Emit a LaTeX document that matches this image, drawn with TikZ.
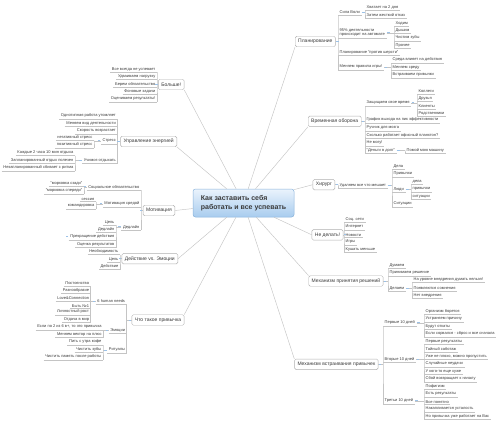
\documentclass[tikz,border=0pt]{standalone}
\usepackage{fontspec}
\setmainfont{Liberation Sans}
\definecolor{lc}{HTML}{C4C4C4}
\definecolor{bc}{HTML}{B0B0B0}
\definecolor{tc}{HTML}{3A3A3A}
\definecolor{mc}{HTML}{9CC2E8}
\definecolor{ctop}{HTML}{EAF3FC}
\definecolor{cbot}{HTML}{A8CCEE}
\definecolor{cbd}{HTML}{8AB3DB}
\newcommand\fbr{\fontsize{5}{6}\selectfont}
\newcommand\flf{\fontsize{4}{4.5}\selectfont}
\tikzset{
 lnk/.style={draw=lc, line width=0.45pt},
 mk/.style={draw=mc, line width=1pt},
 br/.style={draw=bc, fill=white, rounded corners=1.5pt, font=\fbr, text=tc, inner xsep=3pt, inner ysep=0pt, minimum height=10.5pt, line width=0.45pt},
 lf/.style={font=\flf, text=tc, inner xsep=1.5pt, inner ysep=1pt, append after command={(\tikzlastnode.south west) edge[lnk] (\tikzlastnode.south east)}},
 rl/.style={lf, anchor=south west, align=left},
 ll/.style={lf, anchor=south east, align=right},
}
\newcommand\gR[3]{\draw[lnk] (#1.east) -- (#1.east -| #2.south west) (#2.south west) -- (#1.east -| #2.south west) -- (#3.south west); \draw[mk] ([xshift=0.6pt]#1.east) -- ++(2.4pt,0);}
\newcommand\gL[3]{\draw[lnk] (#1.west) -- (#1.west -| #2.south east) (#2.south east) -- (#1.west -| #2.south east) -- (#3.south east); \draw[mk] ([xshift=-0.6pt]#1.west) -- ++(-2.4pt,0);}
\begin{document}
\begin{tikzpicture}[x=1pt,y=-1pt]
\useasboundingbox (0,0) rectangle (500,424);
% center
\node[draw=cbd, top color=ctop, bottom color=cbot, rounded corners=2.5pt, minimum width=101pt, minimum height=28pt, align=left, font=\bfseries\fontsize{7}{8.5}\selectfont, text=tc, line width=0.5pt] (C) at (243.5,203) {Как заставить себя\\работать и все успевать};

% ---------- right: Планирование
\node[br, anchor=west] (pl) at (295,41.5) {Планирование};
\node[rl] (pl1) at (338,15) {Сила Воли};
\node[rl] (pl2) at (338,38) {95\% деятельности\\происходит на автомате};
\node[rl] (pl3) at (338,55.5) {Планирование "против шерсти"};
\node[rl] (pl4) at (338,70) {Меняем правила игры!};
\gR{pl}{pl1}{pl4}
\node[rl] (pl1a) at (365,10) {Хватает на 2 дня};
\node[rl] (pl1b) at (365,18) {Затем жесткий отказ};
\gR{pl1}{pl1a}{pl1b}
\node[rl] (pl2a) at (394,26) {Ходим};
\node[rl] (pl2b) at (394,33.5) {Дышим};
\node[rl] (pl2c) at (394,41) {Чистим зубы};
\node[rl] (pl2d) at (394,48.5) {Прочее};
\gR{pl2}{pl2a}{pl2d}
\node[rl] (pl4a) at (391,63) {Среда влияет на действия};
\node[rl] (pl4b) at (391,70.5) {Меняем среду};
\node[rl] (pl4c) at (391,78) {Встраиваем привычки};
\gR{pl4}{pl4a}{pl4c}

% ---------- Временная оборона
\node[br, anchor=west] (vo) at (308,121.3) {Временная оборона};
\node[rl] (vo1) at (365,106) {Защищаем свое время};
\node[rl] (vo2) at (365,123) {График выхода на пик эффективности};
\node[rl] (vo3) at (365,131) {Ручник для мозга};
\node[rl] (vo4) at (365,138.5) {Сколько работает офисный планктон?};
\node[rl] (vo5) at (365,146) {Не могу!};
\node[rl] (vo6) at (365,153.5) {"Деньги в долг"};
\gR{vo}{vo1}{vo6}
\node[rl] (vo1a) at (417,94) {Коллеги};
\node[rl] (vo1b) at (417,101.5) {Друзья};
\node[rl] (vo1c) at (417,109) {Клиенты};
\node[rl] (vo1d) at (417,116.5) {Родственники};
\gR{vo1}{vo1a}{vo1d}
\node[rl] (vo6a) at (405,153.5) {Помой мою машину};
\gR{vo6}{vo6a}{vo6a}

% ---------- Хирург
\node[br, anchor=west] (hi) at (312.7,184.7) {Хирург};
\node[rl] (hi1) at (338,188) {Удаляем все что мешает};
\gR{hi}{hi1}{hi1}
\node[rl] (hi1a) at (392,169) {Дела};
\node[rl] (hi1b) at (392,177) {Привычки};
\node[rl] (hi1c) at (392,192) {Люди};
\node[rl] (hi1d) at (392,207) {Ситуации};
\gR{hi1}{hi1a}{hi1d}
\node[rl] (hi1ca) at (411,184.5) {дела};
\node[rl] (hi1cb) at (411,192) {привычки};
\node[rl] (hi1cc) at (411,199.5) {ситуации};
\gR{hi1c}{hi1ca}{hi1cc}

% ---------- Не делать!
\node[br, anchor=west] (nd) at (311.7,234.8) {Не делать!};
\node[rl] (nd1) at (344,222.5) {Соц. сети};
\node[rl] (nd2) at (344,230) {Интернет};
\node[rl] (nd3) at (344,237.7) {Новости};
\node[rl] (nd4) at (344,245) {Игры};
\node[rl] (nd5) at (344,252.5) {Кушать меньше};
\gR{nd}{nd1}{nd5}

% ---------- Механизм принятия решений
\node[br, anchor=west] (mr) at (308.5,281) {Механизм принятия решений};
\node[rl] (mr1) at (388,268.5) {Думаем};
\node[rl] (mr2) at (388,276) {Принимаем решение};
\node[rl] (mr3) at (388,291) {Делаем};
\gR{mr}{mr1}{mr3}
\node[rl] (mr3a) at (412,282.5) {На уровне внедрения думать нельзя!};
\node[rl] (mr3b) at (412,291) {Появляются сомнения};
\node[rl] (mr3c) at (412,298.5) {Нет внедрения};
\gR{mr3}{mr3a}{mr3c}

% ---------- Механизм встраивания привычек
\node[br, anchor=west] (mv) at (294.3,364.3) {Механизм встраивания привычек};
\node[rl] (mv1) at (383,326) {Первые 10 дней};
\node[rl] (mv2) at (383,362.5) {Вторые 10 дней};
\node[rl] (mv3) at (383,404) {Третьи 10 дней};
\gR{mv}{mv1}{mv3}
\node[rl] (mv1a) at (424,314.5) {Организм борется};
\node[rl] (mv1b) at (424,322) {Устраняем причину};
\node[rl] (mv1c) at (424,329.5) {Будут откаты};
\node[rl] (mv1d) at (424,337) {Если сорвался - сброс и все сначала};
\gR{mv1}{mv1a}{mv1d}
\node[rl] (mv2a) at (424,344.5) {Первые результаты};
\node[rl] (mv2b) at (424,352) {Тайный саботаж};
\node[rl] (mv2c) at (424,359.5) {Уже не плохо, можно пропустить};
\node[rl] (mv2d) at (424,367) {Случайные неудачи};
\node[rl] (mv2e) at (424,374.5) {У кого-то еще хуже};
\node[rl] (mv2f) at (424,382) {Сбой возвращает к началу};
\gR{mv2}{mv2a}{mv2f}
\node[rl] (mv3a) at (424,389.5) {Пофигизм};
\node[rl] (mv3b) at (424,397) {Есть результаты};
\node[rl] (mv3c) at (424,404.5) {Все понятно};
\node[rl] (mv3d) at (424,412) {Накапливается усталость};
\node[rl] (mv3e) at (424,419.5) {Но привычка уже работает на Вас};
\gR{mv3}{mv3a}{mv3e}

% ---------- left: Больше!
\node[br, anchor=east] (bo) at (184.3,84.5) {Больше!};
\node[ll] (bo1) at (157,72.3) {Все всегда не успевает};
\node[ll] (bo2) at (157,79.7) {Удваиваем нагрузку};
\node[ll] (bo3) at (157,87.3) {Берем обязательство};
\node[ll] (bo4) at (157,94.7) {Фоновые задачи};
\node[ll] (bo5) at (157,102) {Оцениваем результаты!};
\gL{bo}{bo1}{bo5}

% ---------- Управление энергией
\node[br, anchor=east] (ue) at (177,141.5) {Управление энергией};
\node[ll] (ue1) at (117.5,119) {Однотипная работа утомляет};
\node[ll] (ue2) at (117.5,126.5) {Меняем вид деятельности};
\node[ll] (ue3) at (117.5,134) {Скорость возрастает};
\node[ll] (ue4) at (117.5,144) {Стресс};
\node[ll] (ue5) at (117.5,163.5) {Учимся отдыхать};
\gL{ue}{ue1}{ue5}
\node[ll] (ue4a) at (94,140.5) {негативный стресс};
\node[ll] (ue4b) at (94,148) {позитивный стресс};
\gL{ue4}{ue4a}{ue4b}
\node[ll] (ue5a) at (75,155.7) {Каждые 2 часа 10 мин отдыха};
\node[ll] (ue5b) at (75,163.3) {Запланированный отдых полезен};
\node[ll] (ue5c) at (75,171) {Незапланированный сбивает с ритма};
\gL{ue5}{ue5a}{ue5c}

% ---------- Мотивация
\node[br, anchor=east] (mo) at (175,210.5) {Мотивация};
\node[ll] (mo1) at (141,190) {Социальное обязательство};
\node[ll] (mo2) at (141,207) {Мотивация средой};
\node[ll] (mo3) at (141,230) {Дедлайн};
\gL{mo}{mo1}{mo3}
\node[ll] (mo1a) at (84,186.7) {"морковка сзади"};
\node[ll] (mo1b) at (84,194) {"морковка спереди"};
\gL{mo1}{mo1a}{mo1b}
\node[ll] (mo2a) at (96,201.7) {сессия};
\node[ll] (mo2b) at (96,209) {командировка};
\gL{mo2}{mo2a}{mo2b}
\node[ll] (mo3a) at (116,225) {Цель};
\node[ll] (mo3b) at (116,232.3) {Дедлайн};
\node[ll] (mo3c) at (116,240) {Прекращение действия};
\node[ll] (mo3d) at (116,247.7) {Оценка результатов};
\gL{mo3}{mo3a}{mo3d}
\draw[mk] ([xshift=-0.6pt]mo3c.west) -- ++(-2.4pt,0);

% ---------- Действие vs. Эмоции
\node[br, anchor=east] (de) at (178,258.7) {Действие vs. Эмоции};
\node[ll] (de1) at (120,254.5) {Необходимость};
\node[ll] (de2) at (120,262) {Цель};
\node[ll] (de3) at (120,269.5) {Действие};
\gL{de}{de1}{de3}

% ---------- Что такое привычка
\node[br, anchor=east] (ch) at (184.3,320) {Что такое привычка};
\node[ll] (ch1) at (126.7,304) {6 human needs};
\node[ll] (ch2) at (126.7,333.5) {Эмоции};
\node[ll] (ch3) at (126.7,353) {Ритуалы};
\gL{ch}{ch1}{ch3}
\node[ll] (ch1a) at (90.7,286) {Постоянство};
\node[ll] (ch1b) at (90.7,293.5) {Разнообразие};
\node[ll] (ch1c) at (90.7,301) {Love\&Connection};
\node[ll] (ch1d) at (90.7,308.5) {Быть №1};
\node[ll] (ch1e) at (90.7,315) {Личностный рост};
\node[ll] (ch1f) at (90.7,322.7) {Отдача в мир};
\gL{ch1}{ch1a}{ch1f}
\node[ll] (ch2a) at (103.3,330) {Если по 2 из 6 в+, то это привычка};
\node[ll] (ch2b) at (103.3,337.5) {Меняем вектор на плюс};
\gL{ch2}{ch2a}{ch2b}
\node[ll] (ch3a) at (103,345) {Пить с утра кофе};
\node[ll] (ch3b) at (103,352.7) {Чистить зубы};
\node[ll] (ch3c) at (103,360) {Чистить память после работы};
\gL{ch3}{ch3a}{ch3c}

% ---------- main connectors
\draw[lnk] (C) -- (pl.south west);
\draw[lnk] (C) -- (vo.south west);
\draw[lnk] (C) -- (hi.west);
\draw[lnk] (C) -- (nd.west);
\draw[lnk] (C) -- (mr.north west);
\draw[lnk] (C) -- (mv.north west);
\draw[lnk] (C) -- (bo.south east);
\draw[lnk] (C) -- (ue.south east);
\draw[lnk] (C) -- (mo.east);
\draw[lnk] (C) -- (de.east);
\draw[lnk] (C) -- (ch.north east);
\end{tikzpicture}
\end{document}
